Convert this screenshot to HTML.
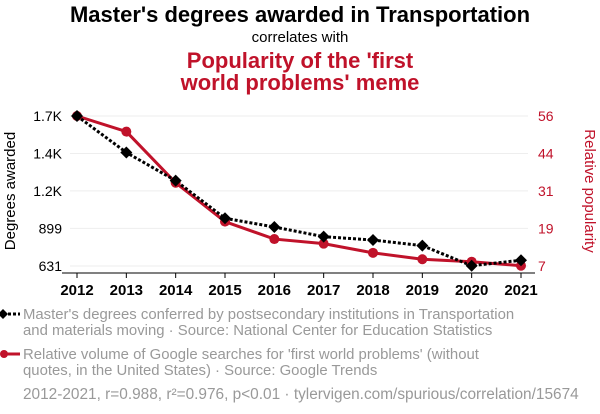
<!DOCTYPE html>
<html><head><meta charset="utf-8"><style>
body{margin:0;background:#fff;width:600px;height:414px;overflow:hidden;font-family:"Liberation Sans",sans-serif;}
svg{display:block}
</style></head><body>
<svg id="c" width="600" height="414">
<text x="300" y="22" text-anchor="middle" font-size="22" font-weight="bold" fill="#000">Master's degrees awarded in Transportation</text>
<text x="300" y="42" text-anchor="middle" font-size="15" fill="#000">correlates with</text>
<text x="300" y="68" text-anchor="middle" font-size="22" font-weight="bold" fill="#c0122a">Popularity of the 'first</text>
<text x="300" y="90" text-anchor="middle" font-size="22" font-weight="bold" fill="#c0122a">world problems' meme</text>
<text transform="translate(15,191) rotate(-90)" text-anchor="middle" font-size="15" fill="#000">Degrees awarded</text>
<text transform="translate(585,191) rotate(90)" text-anchor="middle" font-size="15" fill="#c0122a">Relative popularity</text>
<g id="grid"></g><g id="axes"></g><g id="series"></g>
<g font-size="14.9" fill="#999">
<line x1="3" y1="314" x2="20" y2="314" stroke="#000" stroke-width="3" stroke-dasharray="3,2"/>
<path d="M3 309 L8 314 L3 319 L-2 314Z" fill="#000"/>
<text x="23" y="319">Master's degrees conferred by postsecondary institutions in Transportation</text>
<text x="23" y="335">and materials moving · Source: National Center for Education Statistics</text>
<line x1="3" y1="354" x2="20" y2="354" stroke="#c0122a" stroke-width="3"/>
<circle cx="4" cy="354" r="4" fill="#c0122a"/>
<text x="23" y="359">Relative volume of Google searches for 'first world problems' (without</text>
<text x="23" y="375">quotes, in the United States) · Source: Google Trends</text>
<text x="23" y="399" font-size="15.4">2012-2021, r=0.988, r²=0.976, p&lt;0.01 · tylervigen.com/spurious/correlation/15674</text>
</g>
</svg>
<script>
const years=[2012,2013,2014,2015,2016,2017,2018,2019,2020,2021];
const degrees=[1700,1440,1239,971,909,840,816,776,633,672];
const meme=[56,50.9,34.2,21.5,15.8,14.3,11.3,9.2,8.4,7.1];
const leftTicks=[631,899,1166,1433,1700];
const leftLabels=["631","899","1.2K","1.4K","1.7K"];
const rightTicks=[7,19.25,31.5,43.75,56];
const rightLabels=["7","19","31","44","56"];
const NS="http://www.w3.org/2000/svg";
const X=y=>77+(y-2012)*(521-77)/9;
const YL=v=>266-(v-631)/(1700-631)*150;
const YR=v=>266-(v-7)/(56-7)*150;
function mk(t,a,p){const e=document.createElementNS(NS,t);for(const k in a)e.setAttribute(k,a[k]);p.appendChild(e);return e;}
const grid=document.getElementById('grid'),axes=document.getElementById('axes'),ser=document.getElementById('series');
leftTicks.forEach((v,i)=>{
 const g=mk('line',{x1:70,x2:528,y1:YL(v),y2:YL(v),stroke:'#eee','stroke-width':1},grid);
 
 
 const t=mk('text',{x:62,y:YL(v)+5,'text-anchor':'end','font-size':14,fill:'#000'},axes);t.textContent=leftLabels[i];
 
 
});
rightTicks.forEach((v,i)=>{
 const t=mk('text',{x:538,y:YR(v)+5,'font-size':14,fill:'#c0122a'},axes);t.textContent=rightLabels[i];
 
 
});
const ax=mk('line',{x1:62,x2:535,y1:273,y2:273,stroke:'#000','stroke-width':1},axes);


years.forEach(y=>{
 mk('line',{x1:X(y),x2:X(y),y1:273,y2:278,stroke:'#000'},axes);
 const t=mk('text',{x:X(y),y:295,'text-anchor':'middle','font-size':15,'font-weight':'bold',fill:'#000'},axes);t.textContent=y;
 
 
});
const rl=mk('polyline',{points:years.map((y,i)=>X(y)+','+YR(meme[i])).join(' '),fill:'none',stroke:'#c0122a','stroke-width':3},ser);


const bl=mk('polyline',{points:years.map((y,i)=>X(y)+','+YL(degrees[i])).join(' '),fill:'none',stroke:'#000','stroke-width':3,'stroke-dasharray':'3,2'},ser);


years.forEach((y,i)=>{
 const c=mk('circle',{cx:X(y),cy:YR(meme[i]),r:5,fill:'#c0122a'},ser);
 
 
});
years.forEach((y,i)=>{
 const x=X(y),v=YL(degrees[i]);
 const d=mk('path',{d:`M${x} ${v-6}L${x+6} ${v}L${x} ${v+6}L${x-6} ${v}Z`,fill:'#000'},ser);
 
 
});
</script>
</body></html>
